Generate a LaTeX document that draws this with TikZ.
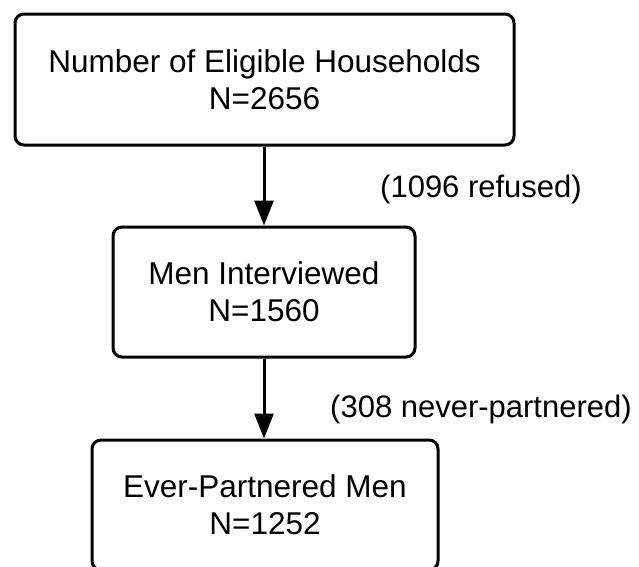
\documentclass[tikz,border=0pt]{standalone}
\usepackage{fontspec}
\setmainfont{Liberation Sans}
\usetikzlibrary{arrows.meta}
\begin{document}
\begin{tikzpicture}[x=1pt,y=-1pt,
  box/.style={draw=black, line width=3pt, rounded corners=9pt, align=center,
    inner sep=0pt, font=\fontsize{31.5}{37}\selectfont},
  lbl/.style={anchor=base west, inner sep=0pt, font=\fontsize{31}{37}\selectfont},
  flow/.style={line width=3pt, -{Triangle[length=25pt,width=19pt]}}]
\clip (0,0) rectangle (639,566);
\fill[white] (0,0) rectangle (639,566);
\node[box, minimum width=499pt, minimum height=131pt] (b1) at (264.5,79.5)
  {Number of Eligible Households\\N=2656};
\node[box, minimum width=302pt, minimum height=130pt] (b2) at (264,292)
  {Men Interviewed\\N=1560};
\node[box, minimum width=346pt, minimum height=130pt] (b3) at (265,505)
  {Ever-Partnered Men\\N=1252};
\draw[flow] (b1.south -| b2.north) -- (b2.north);
\draw[flow] (b2.south) -- (b3.north -| b2.south);
\node[lbl] (l1) at (380,197) {(1096 refused)};
\node[lbl] (l2) at (330,417) {(308 never-partnered)};
\end{tikzpicture}
\end{document}
